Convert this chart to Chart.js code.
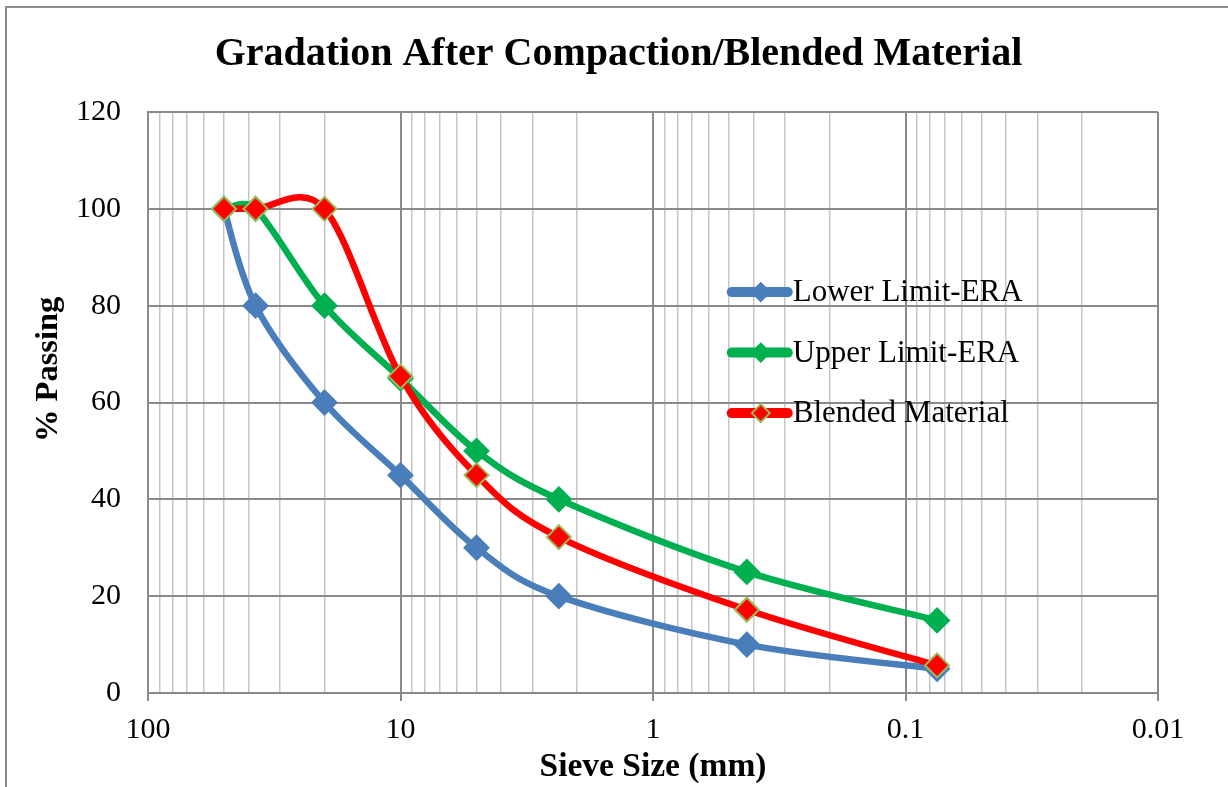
<!DOCTYPE html>
<html>
<head>
<meta charset="utf-8">
<script src="https://cdn.jsdelivr.net/npm/chart.js@4.4.1/dist/chart.umd.min.js"></script>
<style>
  html, body { margin: 0; padding: 0; background: #fff; }
  canvas { display: block; }
</style>
</head>
<body>
<canvas id="gradationChart" width="1228" height="787"></canvas>
<script>
// sieve sizes (mm) and % passing
const sieveSizes = [50, 37.5, 20, 10, 5, 2.36, 0.425, 0.075];
const lowerLimit = [100, 80, 60, 45, 30, 20, 10, 5];
const upperLimit = [100, 100, 80, 65, 50, 40, 25, 15];
const blended = [100, 100, 100, 65.4, 45, 32.2, 17.2, 5.7];

const seriesNames = ['Lower Limit-ERA', 'Upper Limit-ERA', 'Blended Material'];
const yTicks = [0, 20, 40, 60, 80, 100, 120];
const xDecades = [-2, -1, 0, 1, 2];

const serif = "'Liberation Serif', 'Times New Roman', serif";
const majorGrid = '#8a8a8a';
const minorGrid = '#c6c6c6';

const toPoints = vals => sieveSizes.map((s, i) => ({ x: s, y: vals[i] }));

const isDecade = v => Math.abs(Math.log10(v) - Math.round(Math.log10(v))) < 1e-9;

// 1..9 x 10^n ticks, built once from the decades
function logTicks() {
    const out = [];
    for (let e = xDecades[0]; e < xDecades[xDecades.length - 1]; e++) {
        for (let m = 1; m <= 9; m++) {
            out.push({ value: parseFloat((m * Math.pow(10, e)).toPrecision(6)) });
        }
    }
    out.push({ value: Math.pow(10, xDecades[xDecades.length - 1]) });
    return out;
}

function makeSet(label, vals, color, markerBorder, order) {
    return {
        label: label,
        data: toPoints(vals),
        borderColor: color,
        backgroundColor: color,
        borderWidth: 6.5,
        borderCapStyle: 'round',
        borderJoinStyle: 'round',
        tension: 0.5,
        pointStyle: 'rectRot',
        pointRadius: 12,
        pointBorderWidth: 2,
        pointBackgroundColor: color,
        pointBorderColor: markerBorder,
        order: order
    };
}

const datasets = [
    makeSet(seriesNames[0], lowerLimit, '#4a7ebb', '#4a7ebb', 2),
    makeSet(seriesNames[1], upperLimit, '#00b050', '#00b050', 1),
    makeSet(seriesNames[2], blended, '#ff0000', '#9bbb59', 0)
];

// Excel style smoothing: handles are (next - prev) / 6, shortened on short segments
const excelSmooth = {
    id: 'excelSmooth',
    beforeDatasetDraw(chart, args) {
        const meta = args.meta;
        const line = meta.dataset;
        if (!line) return;
        line.updateControlPoints(chart.chartArea, meta.iScale.axis);
        const pts = meta.data;
        pts.forEach((p, i) => {
            const prev = pts[i - 1] || p;
            const next = pts[i + 1] || p;
            const dx = next.x - prev.x, dy = next.y - prev.y;
            const d02 = Math.hypot(dx, dy);
            const d01 = Math.hypot(p.x - prev.x, p.y - prev.y);
            const d12 = Math.hypot(next.x - p.x, next.y - p.y);
            let f1 = 1 / 6, f2 = 1 / 6;
            if (d02 > 0 && d02 / 6 > d01 / 2) f1 = d01 / (2 * d02);
            if (d02 > 0 && d02 / 6 > d12 / 2) f2 = d12 / (2 * d02);
            p.cp1x = p.x - f1 * dx;
            p.cp1y = p.y - f1 * dy;
            p.cp2x = p.x + f2 * dx;
            p.cp2y = p.y + f2 * dy;
        });
        line._pointsUpdated = true;
        line._path = undefined;
    }
};

// outer frame like the Excel chart border
const framePlugin = {
    id: 'frame',
    beforeDraw(chart) {
        const ctx = chart.ctx;
        ctx.save();
        ctx.fillStyle = '#fff';
        ctx.fillRect(0, 0, chart.width, chart.height);
        ctx.strokeStyle = '#8c8c8c';
        ctx.lineWidth = 2;
        ctx.beginPath();
        ctx.moveTo(6, chart.height);
        ctx.lineTo(6, 7);
        ctx.lineTo(chart.width, 7);
        ctx.stroke();
        ctx.restore();
    }
};

// y axis title sits a little above the middle of the plot, as in the original
const yTitle = {
    id: 'yTitle',
    afterDraw(chart) {
        const { ctx, chartArea } = chart;
        ctx.save();
        ctx.translate(chartArea.left - 99, chartArea.top + (chartArea.bottom - chartArea.top) * 0.443);
        ctx.rotate(-Math.PI / 2);
        ctx.fillStyle = '#000';
        ctx.font = 'bold 32.5px ' + serif;
        ctx.textAlign = 'center';
        ctx.textBaseline = 'middle';
        ctx.fillText('% Passing', 0, 0);
        ctx.restore();
    }
};

// legend sits inside the plot, right of centre
const insideLegend = {
    id: 'insideLegend',
    afterDatasetsDraw(chart) {
        const { ctx, chartArea } = chart;
        const x0 = chartArea.left + (chartArea.right - chartArea.left) * 0.578;
        const y0 = chartArea.top + (chartArea.bottom - chartArea.top) * 0.31;
        const step = 60.5;
        ctx.save();
        seriesNames.forEach((name, i) => {
            const ds = datasets[i];
            const y = y0 + i * step;
            ctx.strokeStyle = ds.borderColor;
            ctx.lineWidth = 10;
            ctx.lineCap = 'round';
            ctx.beginPath();
            ctx.moveTo(x0, y);
            ctx.lineTo(x0 + 56, y);
            ctx.stroke();

            const cx = x0 + 29, r = 9;
            ctx.beginPath();
            ctx.moveTo(cx - r, y);
            ctx.lineTo(cx, y - r);
            ctx.lineTo(cx + r, y);
            ctx.lineTo(cx, y + r);
            ctx.closePath();
            ctx.fillStyle = ds.pointBackgroundColor;
            ctx.fill();
            ctx.lineWidth = 2;
            ctx.strokeStyle = ds.pointBorderColor;
            ctx.stroke();

            ctx.fillStyle = '#000';
            ctx.font = '31px ' + serif;
            ctx.textBaseline = 'middle';
            ctx.textAlign = 'left';
            ctx.fillText(name, x0 + 61, y + 1);
        });
        ctx.restore();
    }
};

new Chart(document.getElementById('gradationChart'), {
    type: 'line',
    data: { datasets: datasets },
    options: {
        responsive: false,
        animation: false,
        layout: { padding: { left: 9, right: 0, top: 0, bottom: 0 } },
        plugins: {
            legend: { display: false },
            tooltip: { enabled: false },
            title: {
                display: true,
                text: 'Gradation After Compaction/Blended Material',
                color: '#000',
                font: { family: serif, size: 40, weight: 'bold' },
                padding: { top: 31, bottom: 33 }
            }
        },
        scales: {
            x: {
                type: 'logarithmic',
                reverse: true,
                min: 0.01,
                max: 100,
                afterBuildTicks: scale => { scale.ticks = logTicks(); },
                afterFit: scale => { scale.height = 94; scale.paddingRight = 70; },
                border: { color: majorGrid, width: 2 },
                grid: {
                    color: c => (c.tick && isDecade(c.tick.value) ? majorGrid : minorGrid),
                    lineWidth: c => (c.tick && isDecade(c.tick.value) ? 2 : 1.5),
                    tickColor: c => (c.tick && isDecade(c.tick.value) ? majorGrid : 'rgba(0,0,0,0)'),
                    tickLength: 8,
                    drawTicks: true
                },
                ticks: {
                    autoSkip: false,
                    maxRotation: 0,
                    padding: 11,
                    color: '#000',
                    font: { family: serif, size: 30 },
                    callback: v => {
                        if (!isDecade(v)) return '';
                        const e = Math.round(Math.log10(v));
                        return e >= 0 ? String(Math.pow(10, e)) : Math.pow(10, e).toFixed(-e);
                    }
                },
                title: {
                    display: true,
                    text: 'Sieve Size (mm)',
                    color: '#000',
                    font: { family: serif, size: 33.5, weight: 'bold' },
                    padding: { top: 0, bottom: 0 }
                }
            },
            y: {
                min: 0,
                max: 120,
                afterBuildTicks: scale => { scale.ticks = yTicks.map(v => ({ value: v })); },
                afterFit: scale => { scale.width = 139; },
                border: { color: majorGrid, width: 2 },
                grid: {
                    color: majorGrid,
                    lineWidth: 2,
                    drawTicks: false
                },
                ticks: {
                    padding: 27,
                    color: '#000',
                    font: { family: serif, size: 30 }
                },
                title: { display: false }
            }
        }
    },
    plugins: [framePlugin, excelSmooth, yTitle, insideLegend]
});
</script>
</body>
</html>
